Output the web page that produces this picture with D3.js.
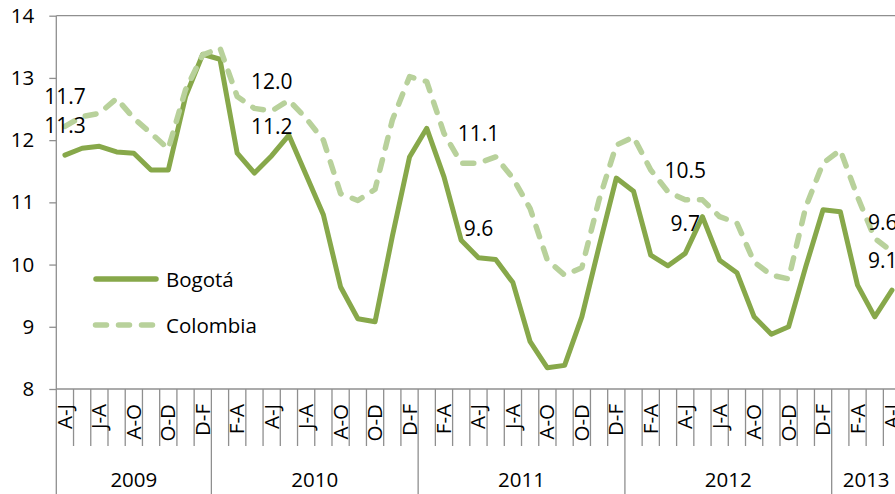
<!DOCTYPE html>
<html>
<head>
<meta charset="utf-8">
<script src="https://cdn.jsdelivr.net/npm/d3@7"></script>
<style>
  html, body { margin: 0; padding: 0; background: #fff; }
  svg { display: block; font-family: "Open Sans", sans-serif; }
</style>
</head>
<body>
<svg id="chart" width="895" height="494"></svg>
<script>
// ---- Data ----
const years = ["2009", "2010", "2011", "2012", "2013"];
const yearCounts = [9, 12, 12, 12, 4];
const periods = [
  "A-J","M-J","J-A","J-S","A-O","S-N","O-D","N-E","D-F",
  "E-M","F-A","M-M","A-J","M-J","J-A","J-S","A-O","S-N","O-D","N-E","D-F",
  "E-M","F-A","M-M","A-J","M-J","J-A","J-S","A-O","S-N","O-D","N-E","D-F",
  "E-M","F-A","M-M","A-J","M-J","J-A","J-S","A-O","S-N","O-D","N-E","D-F",
  "E-M","F-A","M-M","A-J"
];
const bogota = [
  11.76, 11.87, 11.90, 11.81, 11.79, 11.52, 11.52, 12.70, 13.38,
  13.30, 11.79, 11.47, 11.75, 12.08, 11.44, 10.80, 9.64, 9.13, 9.08, 10.45, 11.73,
  12.19, 11.41, 10.39, 10.11, 10.08, 9.71, 8.76, 8.34, 8.38, 9.16, 10.29, 11.39,
  11.18, 10.15, 9.98, 10.18, 10.77, 10.07, 9.87, 9.16, 8.88, 9.00, 9.97, 10.88,
  10.85, 9.67, 9.16, 9.59
];
const colombia = [
  12.22, 12.38, 12.43, 12.67, 12.35, 12.11, 11.86, 12.81, 13.37,
  13.48, 12.70, 12.51, 12.47, 12.64, 12.35, 12.00, 11.14, 11.03, 11.21, 12.32, 13.02,
  12.94, 12.11, 11.63, 11.63, 11.73, 11.39, 10.90, 10.07, 9.83, 9.95, 11.04, 11.92,
  12.05, 11.52, 11.17, 11.04, 11.04, 10.77, 10.67, 10.04, 9.83, 9.77, 10.93, 11.63,
  11.84, 11.09, 10.42, 10.21
];
const labelIndex = [0, 12, 24, 36, 48];
const bogotaLabels = ["11.3", "11.2", "9.6", "9.7", "9.1"];
const colombiaLabels = ["11.7", "12.0", "11.1", "10.5", "9.6"];
const yTicks = [8, 9, 10, 11, 12, 13, 14];
const seriesNames = ["Bogotá", "Colombia"];

// ---- Style ----
const AXIS = "#8f8f8f";
const C_BOG = "#87a84a";
const C_COL = "#b8d19b";
const FS = 20.5;

const svg = d3.select("#chart");
const mLeft = 56.3, mRight = 900.6, mTop = 15.7, mBottom = 389;

const idx = d3.range(periods.length);
const x = d3.scaleBand().domain(idx).range([mLeft, mRight]).paddingInner(0).paddingOuter(0);
const xc = i => x(i) + x.bandwidth() / 2;
const y = d3.scaleLinear().domain([8, 14]).range([mBottom, mTop]);

// top line at max tick
svg.append("line")
  .attr("x1", mLeft).attr("x2", mRight)
  .attr("y1", y(14)).attr("y2", y(14))
  .attr("stroke", AXIS).attr("stroke-width", 1.3);

// Y axis
const yAxis = svg.append("g")
  .attr("transform", `translate(${mLeft},0)`)
  .call(d3.axisLeft(y).tickValues(yTicks).tickSize(7).tickSizeOuter(0).tickPadding(15).tickFormat(d3.format("d")));
yAxis.select(".domain").remove();
yAxis.selectAll(".tick line").attr("stroke", AXIS).attr("stroke-width", 1.3);
yAxis.selectAll(".tick text").attr("font-size", FS).attr("fill", "#000")
  .attr("font-family", "Open Sans, sans-serif");

// left axis line (extends through the category label area)
svg.append("line")
  .attr("x1", mLeft).attr("x2", mLeft)
  .attr("y1", y(14)).attr("y2", 494)
  .attr("stroke", AXIS).attr("stroke-width", 1.3);

// X axis baseline
svg.append("line")
  .attr("x1", mLeft).attr("x2", mRight)
  .attr("y1", y(8)).attr("y2", y(8))
  .attr("stroke", AXIS).attr("stroke-width", 1.3);

// category separators
const yearStarts = [];
let acc = 0;
yearCounts.forEach(c => { yearStarts.push(acc); acc += c; });
for (let i = 1; i < periods.length; i++) {
  const isYear = yearStarts.includes(i);
  svg.append("line")
    .attr("x1", x(i)).attr("x2", x(i))
    .attr("y1", y(8)).attr("y2", isYear ? 494 : 446)
    .attr("stroke", AXIS).attr("stroke-width", 1.3);
}

// category labels (every other one)
idx.filter(i => i % 2 === 0).forEach(i => {
  svg.append("text")
    .attr("transform", `translate(${xc(i) + 7},404) rotate(-90)`)
    .attr("text-anchor", "end")
    .attr("font-size", FS)
    .attr("fill", "#000")
    .text(periods[i]);
});

// year labels
years.forEach((yr, k) => {
  const s = yearStarts[k], e = s + yearCounts[k];
  const cx = (x(s) + (e < periods.length ? x(e) : mRight)) / 2;
  svg.append("text")
    .attr("x", cx).attr("y", 487)
    .attr("text-anchor", "middle")
    .attr("font-size", FS)
    .attr("fill", "#000")
    .text(yr);
});

// lines
const line = d3.line().x((d, i) => xc(i)).y(d => y(d));
svg.append("path").datum(bogota)
  .attr("d", line)
  .attr("fill", "none").attr("stroke", C_BOG).attr("stroke-width", 5)
  .attr("stroke-linejoin", "round").attr("stroke-linecap", "round");
svg.append("path").datum(colombia)
  .attr("d", line)
  .attr("fill", "none").attr("stroke", C_COL).attr("stroke-width", 5.5)
  .attr("stroke-dasharray", "11,12")
  .attr("stroke-linejoin", "round").attr("stroke-linecap", "round");

// data labels
function addLabels(values, texts) {
  labelIndex.forEach((i, k) => {
    const t = svg.append("text")
      .attr("x", xc(i)).attr("y", y(values[i]) - 22)
      .attr("text-anchor", "middle")
      .attr("font-size", 21)
      .attr("fill", "#000")
      .text(texts[k]);
    const w = t.node().getComputedTextLength();
    if (xc(i) + w / 2 > mRight - 3) {
      t.attr("text-anchor", "end").attr("x", mRight - 3);
    }
  });
}
addLabels(bogota, bogotaLabels);
addLabels(colombia, colombiaLabels);

// legend
const lg = svg.append("g");
lg.append("line")
  .attr("x1", 96).attr("x2", 156).attr("y1", 279).attr("y2", 279)
  .attr("stroke", C_BOG).attr("stroke-width", 5.5).attr("stroke-linecap", "round");
lg.append("text").attr("x", 166).attr("y", 287).attr("font-size", FS).attr("fill", "#000").text(seriesNames[0]);
lg.append("line")
  .attr("x1", 95.5).attr("x2", 157).attr("y1", 325).attr("y2", 325)
  .attr("stroke", C_COL).attr("stroke-width", 5.5).attr("stroke-linecap", "round")
  .attr("stroke-dasharray", "11,12");
lg.append("text").attr("x", 166).attr("y", 333).attr("font-size", FS).attr("fill", "#000").text(seriesNames[1]);
</script>
</body>
</html>
